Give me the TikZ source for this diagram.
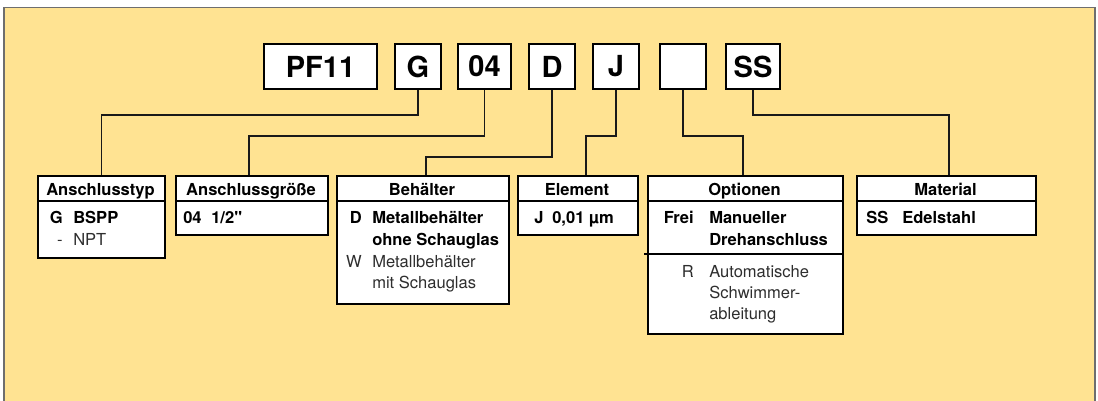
\documentclass[tikz,border=0pt]{standalone}
\usepackage{fontspec}
\setmainfont{TeX Gyre Heros}
\newfontfamily\herosplain{TeX Gyre Heros}
\usetikzlibrary{calc}
\newdimen\pxu \pxu=0.75pt
\definecolor{bgyellow}{HTML}{FFE392}
\definecolor{framegray}{HTML}{6E6E6E}
\definecolor{lighttext}{HTML}{2E2E2E}
\tikzset{
 topbox/.style={draw=black, line width=2\pxu, fill=white, minimum height=45\pxu, inner sep=0pt, font=\bfseries\fontsize{21.75}{24}\selectfont},
 catbox/.style={draw=black, line width=2\pxu, fill=white, anchor=north west, inner sep=0pt},
 conn/.style={draw=black!90, line width=1.1\pxu},
 sepline/.style={draw=black, line width=1.8\pxu},
 hdr/.style={font=\bfseries\fontsize{12.4}{14}\selectfont, anchor=base, inner sep=0pt},
 code/.style={font=\bfseries\fontsize{12.4}{14}\selectfont, anchor=base east, inner sep=0pt},
 desc/.style={font=\bfseries\fontsize{12.4}{14}\selectfont, anchor=base west, inner sep=0pt},
 lcode/.style={font=\fontsize{12.4}{14}\selectfont, text=lighttext, anchor=base east, inner sep=0pt},
 ldesc/.style={font=\fontsize{12.4}{14}\selectfont, text=lighttext, anchor=base west, inner sep=0pt},
}
\begin{document}
\begin{tikzpicture}[x=0.75pt,y=-0.75pt]
\useasboundingbox (0,0) rectangle (1098,400);
\clip (0,0) rectangle (1098,400);
\fill[white] (0,0) rectangle (1098,400);
\filldraw[fill=bgyellow, draw=framegray, line width=1.6\pxu] (4,7.5) rectangle (1095,420);

% top code boxes
\node[topbox, minimum width=113\pxu] (pf) at (320.5,66.5) {PF11};
\node[topbox, minimum width=46\pxu] (g) at (418,66.5) {G};
\node[topbox, minimum width=53\pxu] (n04) at (484.5,66.5) {04};
\node[topbox, minimum width=46\pxu] (d) at (552,66.5) {D};
\node[topbox, minimum width=46\pxu] (j) at (616,66.5) {J};
\node[topbox, minimum width=46\pxu] (e) at (683,66.5) {};
\node[topbox, minimum width=54\pxu] (ss) at (753,66.5) {SS};

% category boxes
\node[catbox, minimum width=127\pxu, minimum height=82\pxu] (typ) at (37,175) {};
\node[catbox, minimum width=152\pxu, minimum height=59\pxu] (gr) at (175,175) {};
\node[catbox, minimum width=172\pxu, minimum height=128\pxu] (beh) at (336,175) {};
\node[catbox, minimum width=120\pxu, minimum height=59\pxu] (el) at (517,175) {};
\node[catbox, minimum width=195\pxu, minimum height=158\pxu] (opt) at (647,175) {};
\node[catbox, minimum width=179\pxu, minimum height=59\pxu] (mat) at (856,175) {};

% header separators
\foreach \b in {typ,gr,beh,el,opt,mat}{
  \draw[sepline] ($(\b.north west)+(0,26)$) -- ($(\b.north east)+(0,26)$);
}
\draw[draw=black, line width=1.2\pxu] ($(opt.north west)+(-3,79)$) -- ($(opt.north east)+(0,79)$);

% connectors
\draw[conn] (g.south) -- ++(0,25) -| (typ.north);
\draw[conn] (n04.south) -- ++(0,46) -| ($(gr.north)+(-3,0)$);
\draw[conn] (d.south) -- ++(0,67) -| ($(beh.north)+(3,0)$);
\draw[conn] (j.south) -- ++(0,46) -| ($(el.north)+(8,0)$);
\draw[conn] (e.south) -- ++(0,46) -| ($(opt.north)+(-2.5,0)$);
\draw[conn] (ss.south) -- ++(0,25) -| ($(mat.north)+(2.5,0)$);

% headers
\node[hdr] (typh) at (100.5,195) {Anschlusstyp};
\node[hdr] (grh) at (251,195) {Anschlussgröße};
\node[hdr] (behh) at (422,195) {Behälter};
\node[hdr] (elh) at (577,195) {Element};
\node[hdr] (opth) at (744.5,195) {Optionen};
\node[hdr] (math) at (945.5,195) {Material};

% Anschlusstyp
\node[code] (typc1) at (63,223) {G};
\node[desc] (typd1) at (73,223) {BSPP};
\node[lcode] (typc2) at (63,245) {-};
\node[ldesc] (typd2) at (73,245) {NPT};

% Anschlussgroesse
\node[desc] (grc1) at (183,223) {04};
\node[desc] (grd1) at (211,223) {\herosplain 1/2"};

% Behaelter
\node[code] (behc1) at (362,223) {D};
\node[desc] (behd1) at (372,223) {Metallbehälter};
\node[desc] (behd2) at (372,245) {ohne Schauglas};
\node[lcode] (behc2) at (362,267) {W};
\node[ldesc] (behd3) at (372,267) {Metallbehälter};
\node[ldesc] (behd4) at (372,288) {mit Schauglas};

% Element
\node[desc] (elc1) at (534,223) {J};
\node[desc] (eld1) at (552,223) {0,01 µm};

% Optionen
\node[code] (optc1) at (694,223) {Frei};
\node[desc] (optd1) at (709,223) {Manueller};
\node[desc] (optd2) at (709,245) {Drehanschluss};
\node[lcode] (optc2) at (694,277) {R};
\node[ldesc] (optd3) at (709,277) {Automatische};
\node[ldesc] (optd4) at (709,298) {Schwimmer-};
\node[ldesc] (optd5) at (709,319) {ableitung};

% Material
\node[desc] (matc1) at (866,223) {SS};
\node[desc] (matd1) at (902,223) {Edelstahl};
\end{tikzpicture}
\end{document}
